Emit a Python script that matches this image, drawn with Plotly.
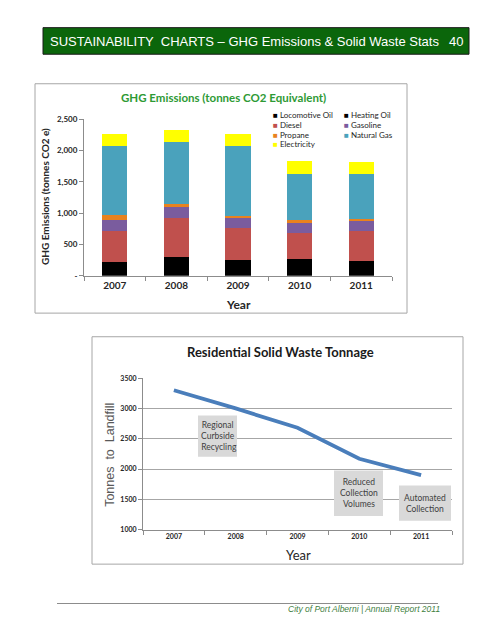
import plotly.graph_objects as go

# ---------------- data ----------------
years = ["2007", "2008", "2009", "2010", "2011"]

locomotive_oil = [225, 298, 246, 272, 230]
heating_oil = [0, 0, 0, 0, 0]
diesel = [492, 617, 512, 418, 487]
gasoline = [172, 194, 173, 157, 167]
propane = [79, 31, 26, 42, 16]
natural_gas = [1098, 989, 1119, 732, 732]
electricity = [199, 198, 189, 209, 188]

series_names = ["Locomotive Oil", "Heating Oil", "Diesel", "Gasoline",
                "Propane", "Natural Gas", "Electricity"]
series_values = [locomotive_oil, heating_oil, diesel, gasoline,
                 propane, natural_gas, electricity]
series_colors = ["#000000", "#000000", "#C0504D", "#7A5C9E",
                 "#E8821E", "#4AA2BC", "#FFFF00"]

ghg_tick_vals = [0, 500, 1000, 1500, 2000, 2500]
ghg_tick_text = ["-", "500", "1,000", "1,500", "2,000", "2,500"]

waste_years = ["2007", "2008", "2009", "2010", "2011"]
waste_tonnes = [3300, 3000, 2680, 2170, 1900]
waste_tick_vals = [1000, 1500, 2000, 2500, 3000, 3500]

# ---------------- helpers (page pixel -> paper) ----------------
W, H = 495, 640
def px(x):
    return x / W
def py(y):
    return 1 - y / H

CAL = "Lato, 'Open Sans', sans-serif"
ARIAL = "'Liberation Sans', Arial, sans-serif"
GREEN_T = "#2E9A35"
AXC = "#8C8C8C"

fig = go.Figure()

for name, vals, col in zip(series_names, series_values, series_colors):
    fig.add_trace(go.Bar(x=years, y=vals, name=name, marker_color=col,
                         marker_line_width=0, width=0.41,
                         xaxis="x", yaxis="y", showlegend=False))

fig.add_trace(go.Scatter(x=waste_years, y=waste_tonnes, mode="lines",
                         line=dict(color="#4A7EBB", width=3.8),
                         xaxis="x2", yaxis="y2", showlegend=False))

shapes = []
# header bar
shapes.append(dict(type="rect", xref="paper", yref="paper",
                   x0=px(43), x1=px(469), y0=py(50), y1=py(23),
                   fillcolor="#0B660B", line=dict(color="#1a1a1a", width=1), layer="below"))
# chart frames
shapes.append(dict(type="rect", xref="paper", yref="paper",
                   x0=px(35), x1=px(407), y0=py(313), y1=py(80),
                   fillcolor="white", line=dict(color="#A6A6A6", width=1), layer="below"))
shapes.append(dict(type="rect", xref="paper", yref="paper",
                   x0=px(92), x1=px(463), y0=py(568), y1=py(337),
                   fillcolor="white", line=dict(color="#A6A6A6", width=1), layer="below"))
# footer line
shapes.append(dict(type="line", xref="paper", yref="paper",
                   x0=px(57), x1=px(438), y0=py(608), y1=py(608),
                   line=dict(color="#8C8C8C", width=1)))
# text boxes on waste chart
boxes = [(198, 237, 417, 459), (334, 383, 473, 519), (399, 451, 488, 524)]
for x0, x1, y0, y1 in boxes:
    shapes.append(dict(type="rect", xref="paper", yref="paper",
                       x0=px(x0), x1=px(x1), y0=py(y1), y1=py(y0),
                       fillcolor="#D9D9D9", line=dict(width=0)))

ann = []
def note(x, y, text, font, xanchor="center", **kw):
    ann.append(dict(x=px(x), y=py(y), xref="paper", yref="paper", xanchor=xanchor,
                    yanchor="middle", showarrow=False, text=text, font=font, **kw))

note(48, 37, "SUSTAINABILITY  CHARTS – GHG Emissions & Solid Waste Stats",
     dict(family=ARIAL, size=13, color="white"), xanchor="left")
note(465, 37, "40", dict(family=ARIAL, size=13, color="white"), xanchor="right")
# chart 1 titles
note(223, 94, "<b>GHG Emissions (tonnes CO2 Equivalent)</b>",
     dict(family=CAL, size=11.5, color=GREEN_T))
note(45, 195, "<b>GHG Emissions (tonnes CO2 e)</b>",
     dict(family=CAL, size=10, color="#262626"), textangle=-90)
note(238, 304, "<b>Year</b>", dict(family=CAL, size=12, color="#262626"))
# chart 1 legend
leg_order = [(0, 0, 0), (1, 1, 0), (2, 0, 1), (3, 1, 1), (4, 0, 2), (5, 1, 2), (6, 0, 3)]
for idx, colno, row in leg_order:
    note(271 if colno == 0 else 342, 112 + row * 9.8,
         f"<span style='color:{series_colors[idx]}'>■</span> {series_names[idx]}",
         dict(family=CAL, size=8, color="#262626"), xanchor="left")
# chart 2 titles
note(280, 353, "<b>Residential Solid Waste Tonnage</b>",
     dict(family=CAL, size=13, color="#1a1a1a"))
note(110, 457, "Tonnes  to  Landfill",
     dict(family=ARIAL, size=12.5, color="#595959"), textangle=-90)
note(298, 559, "Year", dict(family=CAL, size=13, color="#262626"))
# text-box labels
box_text = ["Regional<br>Curbside<br> Recycling", "Reduced<br>Collection<br>Volumes",
            "Automated<br>Collection"]
for (x0, x1, y0, y1), t in zip(boxes, box_text):
    note((x0 + x1) / 2, (y0 + y1) / 2, t, dict(family=CAL, size=8.5, color="#404040"),
         align="center")
# footer
note(364, 614, "<i>City of Port Alberni | Annual Report 2011</i>",
     dict(family=ARIAL, size=8.5, color="#3F7F3F"))

tickfont_b = dict(family=CAL, size=8, color="#262626", weight="bold")
tickfont_s = dict(family=CAL, size=7, color="#262626", weight="bold")
xtickfont_b = dict(family=CAL, size=10, color="#262626", weight="bold")

fig.update_layout(
    width=W, height=H, margin=dict(l=0, r=0, t=0, b=0),
    paper_bgcolor="white", plot_bgcolor="rgba(0,0,0,0)",
    barmode="stack", bargap=0.59,
    shapes=shapes, annotations=ann, showlegend=False,
    xaxis=dict(domain=[px(84), px(392)], anchor="y", type="category",
               range=[-0.5, 4.5],
               showline=True, linecolor=AXC, ticks="outside", tickson="boundaries",
               ticklen=4, tickcolor=AXC, tickfont=xtickfont_b, showgrid=False),
    yaxis=dict(domain=[py(275), py(116)], anchor="x", range=[0, 2500],
               tickvals=ghg_tick_vals, ticktext=ghg_tick_text,
               showline=True, linecolor=AXC, ticks="outside", ticklen=4, tickcolor=AXC,
               tickfont=tickfont_b, showgrid=False, zeroline=False),
    xaxis2=dict(domain=[px(143), px(452)], anchor="y2", type="category",
                range=[-0.5, 4.5],
                showline=True, linecolor=AXC, ticks="outside", tickson="boundaries",
                ticklen=4, tickcolor=AXC, tickfont=tickfont_s, showgrid=False),
    yaxis2=dict(domain=[py(533), py(379)], anchor="x2", range=[1000, 3500],
                tickvals=waste_tick_vals, showline=True, linecolor=AXC,
                ticks="outside", ticklen=4, tickcolor=AXC, tickfont=tickfont_s,
                showgrid=True, gridcolor="#A6A6A6", gridwidth=1, zeroline=False),
)

fig.write_html("out.html", config={"displayModeBar": False},
               post_script="document.body.style.margin='0';document.body.style.overflow='hidden';")
